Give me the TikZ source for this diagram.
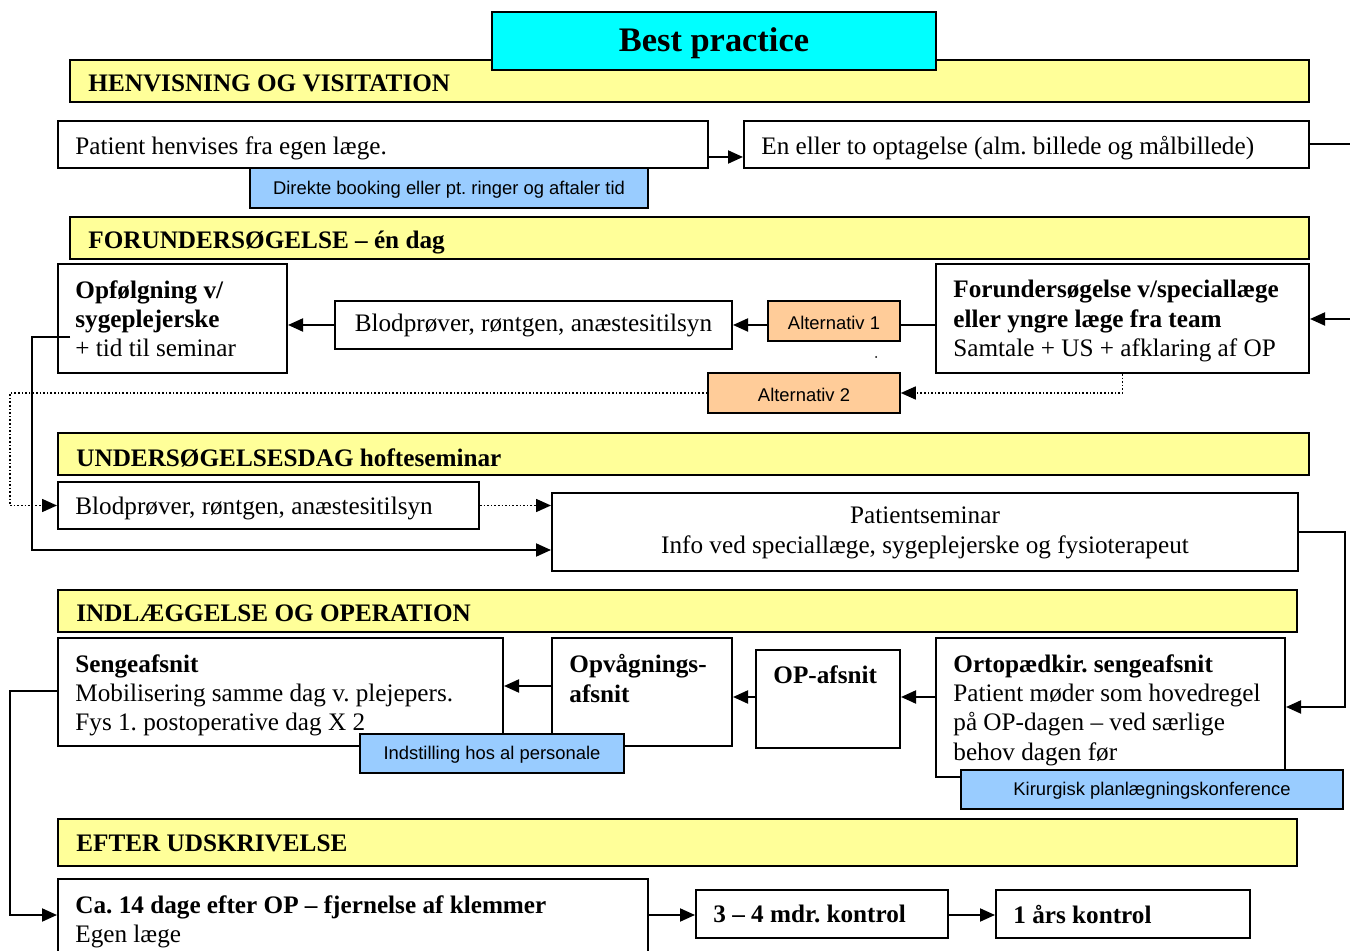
\documentclass[tikz,border=0pt]{standalone}
\usepackage{fontspec}
\setmainfont{Liberation Serif}
\newfontfamily\arialf{Liberation Sans}
\usetikzlibrary{arrows.meta,fit}
\definecolor{titleC}{HTML}{00FFFF}
\definecolor{barY}{HTML}{FFFF99}
\definecolor{noteB}{HTML}{99CCFF}
\definecolor{altO}{HTML}{FFCC99}
\frenchspacing
\begin{document}
\begin{tikzpicture}[x=0.5pt,y=-0.5pt,
 box/.style={draw, line width=1pt, fill=white, inner sep=0pt},
 bar/.style={draw, line width=1pt, fill=barY, inner sep=0pt},
 note/.style={draw, line width=0.8pt, fill=noteB, inner sep=0pt},
 alt/.style={draw, line width=0.8pt, fill=altO, inner sep=0pt},
 txt/.style={inner sep=0pt, anchor=north west, align=left, font=\fontsize{12.6}{14.7}\selectfont},
 hd/.style={txt, font=\fontsize{12.6}{14.7}\selectfont\bfseries},
 ctxt/.style={inner sep=0pt, align=center, font=\fontsize{12.6}{14.7}\selectfont},
 stxt/.style={inner sep=0pt, font=\arialf\fontsize{9.2}{11}\selectfont, yshift=-0.8pt},
 con/.style={line width=1pt},
 arr/.style={con, -{Triangle[length=7.5pt,width=6.5pt]}},
 dotl/.style={line width=0.8pt, densely dotted},
 darr/.style={dotl, -{Triangle[length=7.5pt,width=6.5pt]}},
]
\useasboundingbox (0,0) rectangle (1350,951);
\fill[white] (0,0) rectangle (1350,951);

% bars
\node[bar, fit={(70,60) (1309,102)}] (bar1) {};
\node[box, fill=titleC, fit={(492,12) (936,70)}] (title) {};
\node[inner sep=0pt, font=\fontsize{17.2}{19}\selectfont\bfseries] (titletxt) at ([yshift=-1pt]title.center) {Best practice};
\node[hd] (bar1t) at (88,74) {HENVISNING OG VISITATION};

\node[bar, fit={(70,217) (1309,259)}] (bar2) {};
\node[hd] (bar2t) at (88,231) {FORUNDERSØGELSE – én dag};

\node[bar, fit={(58,433) (1309,475)}] (bar3) {};
\node[hd] (bar3t) at (76,448) {UNDERSØGELSESDAG hofteseminar};

\node[bar, fit={(58,590) (1297,632)}] (bar4) {};
\node[hd] (bar4t) at (76,604) {INDLÆGGELSE OG OPERATION};

\node[bar, fit={(58,819) (1297,866)}] (bar5) {};
\node[hd] (bar5t) at (76,834) {EFTER UDSKRIVELSE};

% section 1
\node[box, fit={(58,121) (708,168)}] (A) {};
\node[txt] (At) at (75,136) {Patient henvises fra egen læge.};
\node[box, fit={(744,121) (1309,168)}] (B) {};
\node[txt] (Bt) at (761,136) {En eller to optagelse (alm. billede og målbillede)};
\node[note, fit={(250,168) (648,208)}] (n1) {};
\node[stxt] (n1t) at (n1.center) {Direkte booking eller pt. ringer og aftaler tid};

% section 2
\node[box, fit={(936,264) (1309,373)}] (C) {};
\node[txt] (Ct) at (953,280) {\textbf{Forundersøgelse v/speciallæge}\\\textbf{eller yngre læge fra team}\\Samtale + US + afklaring af OP};
\node[box, fit={(58,264) (287,373)}] (D) {};
\node[txt] (Dt) at (75,280) {\textbf{Opfølgning v/}\\\textbf{sygeplejerske}\\+ tid til seminar};
\node[box, fit={(335,301) (732,349)}] (E) {};
\node[ctxt] (Et) at (E.center) {Blodprøver, røntgen, anæstesitilsyn};
\node[alt, fit={(768,301) (900,341)}] (alt1) {};
\node[stxt] (alt1t) at (alt1.center) {Alternativ 1};
\node[alt, fit={(708,373) (900,413)}] (alt2) {};
\node[stxt] (alt2t) at (alt2.center) {Alternativ 2};
\node[circle, fill, inner sep=0pt, minimum size=1pt] (dot) at (876,357) {};

% section 3
\node[box, fit={(58,482) (479,529)}] (F) {};
\node[txt] (Ft) at (75,497) {Blodprøver, røntgen, anæstesitilsyn};
\node[box, fit={(552,493) (1298,571)}] (G) {};
\node[ctxt] (Gt) at ([yshift=-0.5pt]G.center) {Patientseminar\\Info ved speciallæge, sygeplejerske og fysioterapeut};

% section 4
\node[box, fit={(936,638) (1285,777)}] (H) {};
\node[txt] (Ht) at (953,654) {\textbf{Ortopædkir. sengeafsnit}\\Patient møder som hovedregel\\på OP-dagen – ved særlige\\behov dagen før};
\node[note, fit={(961,770) (1343,809)}] (n3) {};
\node[stxt] (n3t) at (n3.center) {Kirurgisk planlægningskonference};
\node[box, fit={(756,650) (900,748)}] (I) {};
\node[hd] (It) at (773,665) {OP-afsnit};
\node[box, fit={(552,638) (732,746)}] (J) {};
\node[hd] (Jt) at (569,654) {Opvågnings-\\afsnit};
\node[box, fit={(58,638) (503,746)}] (K) {};
\node[txt] (Kt) at (75,654) {\textbf{Sengeafsnit}\\Mobilisering samme dag v. plejepers.\\Fys 1. postoperative dag X 2};
\node[note, fit={(360,734) (624,773)}] (n2) {};
\node[stxt] (n2t) at (n2.center) {Indstilling hos al personale};

% section 5
\node[box, fit={(58,879) (648,965)}] (L) {};
\node[txt] (Lt) at (75,895) {\textbf{Ca. 14 dage efter OP – fjernelse af klemmer}\\Egen læge};
\node[box, fit={(696,890) (948,938)}] (M) {};
\node[hd] (Mt) at (713,905) {3 – 4 mdr. kontrol};
\node[box, fit={(996,890) (1250,938)}] (N) {};
\node[hd] (Nt) at (1013,905) {1 års kontrol};

% connectors
\draw[arr] (A.east |- 0,157) -- (B.west |- 0,157);
\draw[arr] (B.east) -- (1362,144.5) -- (1362,319) -- (C.east |- 0,319);
\draw[con] (C.west |- 0,325) -- (alt1.east |- 0,325);
\draw[arr] (alt1.west |- 0,325) -- (E.east |- 0,325);
\draw[arr] (E.west) -- (D.east |- E.west);
\draw[darr] (C.south) -- (C.south |- alt2.east) -- (alt2.east);
\draw[darr] (alt2.west) -- (10,393) -- (10,505.5) -- (F.west);
\coordinate (dstart) at (70,337);
\draw[arr] (dstart) -- (32,337) -- (32,550) -- (G.west |- 0,550);
\draw[darr] (F.east) -- (G.west |- F.east);
\draw[arr] (G.east) -- (1345,532) -- (1345,707) -- (H.east |- 0,707);
\draw[arr] (H.west |- 0,697) -- (I.east |- 0,697);
\draw[arr] (I.west |- 0,697) -- (J.east |- 0,697);
\draw[arr] (J.west |- 0,686) -- (K.east |- 0,686);
\draw[arr] (K.west |- 0,691) -- (10,691) -- (10,915) -- (L.west |- 0,915);
\draw[arr] (L.east |- 0,915) -- (M.west |- 0,915);
\draw[arr] (M.east |- 0,915) -- (N.west |- 0,915);
\end{tikzpicture}
\end{document}
